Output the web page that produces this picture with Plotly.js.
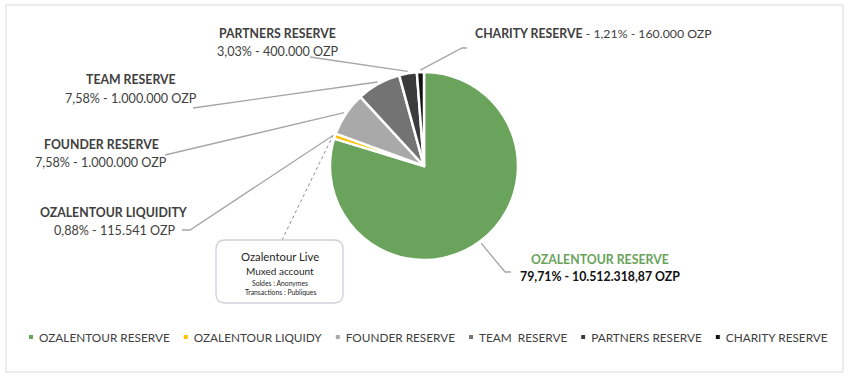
<!DOCTYPE html>
<html>
<head>
<meta charset="utf-8">
<script src="https://cdn.plot.ly/plotly-3.0.1.min.js"></script>
<style>
html,body{margin:0;padding:0;background:#fff;}
#chart{width:850px;height:377px;}
</style>
</head>
<body>
<div id="chart"></div>
<script>
// ---- data ----
const labels = ['OZALENTOUR RESERVE', 'OZALENTOUR LIQUIDY', 'FOUNDER RESERVE', 'TEAM\u00a0 RESERVE', 'PARTNERS RESERVE', 'CHARITY RESERVE'];
const values = [10512318.87, 115541, 1000000, 1000000, 400000, 160000];
const colors = ['#6aa35b', '#ffc000', '#a9a9a9', '#737373', '#3b3b3b', '#121212'];
const calloutNames = ['OZALENTOUR RESERVE', 'OZALENTOUR LIQUIDITY', 'FOUNDER RESERVE', 'TEAM RESERVE', 'PARTNERS RESERVE', 'CHARITY RESERVE'];
const pctText = ['79,71%', '0,88%', '7,58%', '7,58%', '3,03%', '1,21%'];
const amountText = ['10.512.318,87 OZP', '115.541 OZP', '1.000.000 OZP', '1.000.000 OZP', '400.000 OZP', '160.000 OZP'];
const boxLines = ['Ozalentour Live', 'Muxed account', 'Soldes : Anonymes', 'Transactions : Publiques'];

// ---- layout constants (pixels) ----
const W = 850, H = 377;
const px = x => x / W;
const py = y => 1 - y / H;
const FONT = 'Lato, "Open Sans", sans-serif';
const domX = [330 / W, 518 / W];
const domY = [(H - 260) / H, (H - 72) / H];

// pie geometry, same as plotly's (margins 0)
const cx = (domX[0] + domX[1]) / 2 * W;
const cy = H - (domY[0] + domY[1]) / 2 * H;
const R = Math.min((domX[1] - domX[0]) * W, (domY[1] - domY[0]) * H) / 2;
const total = values.reduce((a, b) => a + b, 0);
let cum = 0;
const mids = values.map(v => { const m = (cum + v / 2) / total; cum += v; return m * 2 * Math.PI; });
function edge(i, extra) {
  const r = R + (extra || 2);
  return [cx + r * Math.sin(mids[i]), cy - r * Math.cos(mids[i])];
}

// label anchors (px) and leader routes
const labelPos = [
  {x: 600, y1: 259, y2: 276},
  {x: 114, y1: 212, y2: 230},
  {x: 101, y1: 144, y2: 163},
  {x: 131, y1: 79, y2: 98},
  {x: 277, y1: 33, y2: 51},
  null
];
const leaderStart = [
  [[511, 272], [505, 272]],
  [[182, 230], [190, 230]],
  [[165, 155]],
  [[193, 108]],
  [[310, 57]],
  [[467, 48], [462, 48]]
];

const shapes = [];
const lineStyle = {color: '#a6a6a6', width: 1.3};
leaderStart.forEach((pts, i) => {
  const e = edge(i, 2);
  const all = pts.concat([e]);
  const d = all.map((p, k) => (k ? 'L' : 'M') + px(p[0]) + ',' + py(p[1])).join(' ');
  shapes.push({type: 'path', xref: 'paper', yref: 'paper', path: d, line: lineStyle});
});
// dashed pointer from callout box to liquidity slice
{
  const e = edge(1, 2);
  shapes.push({type: 'path', xref: 'paper', yref: 'paper',
    path: 'M' + px(282) + ',' + py(240) + ' L' + px(e[0]) + ',' + py(e[1]),
    line: {color: '#8c8c8c', width: 1, dash: 'dot'}});
}
// callout rounded box
{
  const x0 = 216, x1 = 343, y0 = 240, y1 = 303, r = 9;
  const P = (x, y) => px(x) + ',' + py(y);
  const d = 'M' + P(x0 + r, y0) + ' L' + P(x1 - r, y0) + ' Q' + P(x1, y0) + ' ' + P(x1, y0 + r) +
    ' L' + P(x1, y1 - r) + ' Q' + P(x1, y1) + ' ' + P(x1 - r, y1) +
    ' L' + P(x0 + r, y1) + ' Q' + P(x0, y1) + ' ' + P(x0, y1 - r) +
    ' L' + P(x0, y0 + r) + ' Q' + P(x0, y0) + ' ' + P(x0 + r, y0) + ' Z';
  shapes.push({type: 'path', xref: 'paper', yref: 'paper', path: d,
    line: {color: '#cfd0d8', width: 1.3}, fillcolor: '#ffffff'});
}
// outer frame
shapes.push({type: 'rect', xref: 'paper', yref: 'paper', x0: px(6), x1: px(843), y0: py(372), y1: py(5),
  line: {color: '#d9d9d9', width: 1}, layer: 'below'});

// annotations
const annotations = [];
const dark = '#404040';
labelPos.forEach((p, i) => {
  if (!p) return;
  const isMain = i === 0;
  annotations.push({xref: 'paper', yref: 'paper', x: px(p.x), y: py(p.y1), showarrow: false,
    xanchor: 'center', yanchor: 'middle', text: '<b>' + calloutNames[i] + '</b>',
    font: {family: FONT, size: 12.3, color: isMain ? colors[0] : dark}});
  annotations.push({xref: 'paper', yref: 'paper', x: px(p.x), y: py(p.y2), showarrow: false,
    xanchor: 'center', yanchor: 'middle',
    text: isMain ? '<b>' + pctText[i] + ' - ' + amountText[i] + '</b>' : pctText[i] + ' - ' + amountText[i],
    font: {family: FONT, size: isMain ? 12.3 : 12.6, color: isMain ? '#111111' : dark}});
});
annotations.push({xref: 'paper', yref: 'paper', x: px(473), y: py(33), showarrow: false,
  xanchor: 'left', yanchor: 'middle',
  text: '<b>' + calloutNames[5] + '</b> - ' + pctText[5] + ' - ' + amountText[5],
  font: {family: FONT, size: 12.3, color: dark}});
// callout box text
const boxY = [256, 271, 283, 292];
const boxSize = [11.3, 10, 6.8, 6.8];
boxLines.forEach((t, k) => {
  annotations.push({xref: 'paper', yref: 'paper', x: px(280), y: py(boxY[k]), showarrow: false,
    xanchor: 'center', yanchor: 'middle', text: t,
    font: {family: FONT, size: boxSize[k], color: '#262626'}});
});

const data = [{
  type: 'pie',
  labels: labels,
  values: values,
  sort: false,
  direction: 'clockwise',
  rotation: 0,
  textinfo: 'none',
  hoverinfo: 'label+value+percent',
  marker: {colors: colors, line: {color: '#ffffff', width: 2.5}},
  domain: {x: domX, y: domY}
}];

const layout = {
  width: W, height: H,
  margin: {l: 0, r: 0, t: 0, b: 0},
  paper_bgcolor: '#ffffff',
  font: {family: FONT},
  showlegend: true,
  legend: {orientation: 'h', x: px(22), y: py(326), xanchor: 'left', yanchor: 'top',
    bgcolor: 'rgba(0,0,0,0)',
    font: {family: FONT, size: 11.8, color: '#404040'}, itemwidth: 30, traceorder: 'normal'},
  shapes: shapes,
  annotations: annotations
};

// compact single-row legend like the reference (small square keys)
const LEG_FIRST_MARKER = 31, LEG_Y = 337, KEY_TO_TEXT = 8, ITEM_GAP = 16;
function compactLegend(gd) {
  gd.querySelectorAll('.legend [clip-path]').forEach(el => el.removeAttribute('clip-path'));
  const items = Array.from(gd.querySelectorAll('.legend .traces'));
  if (!items.length) return;
  let x = 0;
  items.forEach(it => {
    const sym = it.querySelector('.legendpoints path');
    if (sym) sym.setAttribute('transform', 'translate(0,0) scale(0.42)');
    const txt = it.querySelector('text.legendtext');
    txt.setAttribute('x', KEY_TO_TEXT);
    const tw = txt.getComputedTextLength();
    it.setAttribute('transform', 'translate(' + x + ',0)');
    x += KEY_TO_TEXT + tw + ITEM_GAP;
  });
  // align absolute position
  const s0 = items[0].querySelector('.legendpoints path').getBoundingClientRect();
  const t0 = items[0].querySelector('text.legendtext').getBoundingClientRect();
  const dx = LEG_FIRST_MARKER - (s0.left + s0.width / 2);
  const dy = LEG_Y - (t0.top + t0.height / 2);
  items.forEach(it => {
    const m = /translate\(([-\d.]+),([-\d.]+)\)/.exec(it.getAttribute('transform'));
    it.setAttribute('transform', 'translate(' + (parseFloat(m[1]) + dx) + ',' + (parseFloat(m[2]) + dy) + ')');
  });
}

Plotly.newPlot('chart', data, layout, {displayModeBar: false, staticPlot: true}).then(compactLegend);
</script>
</body>
</html>
